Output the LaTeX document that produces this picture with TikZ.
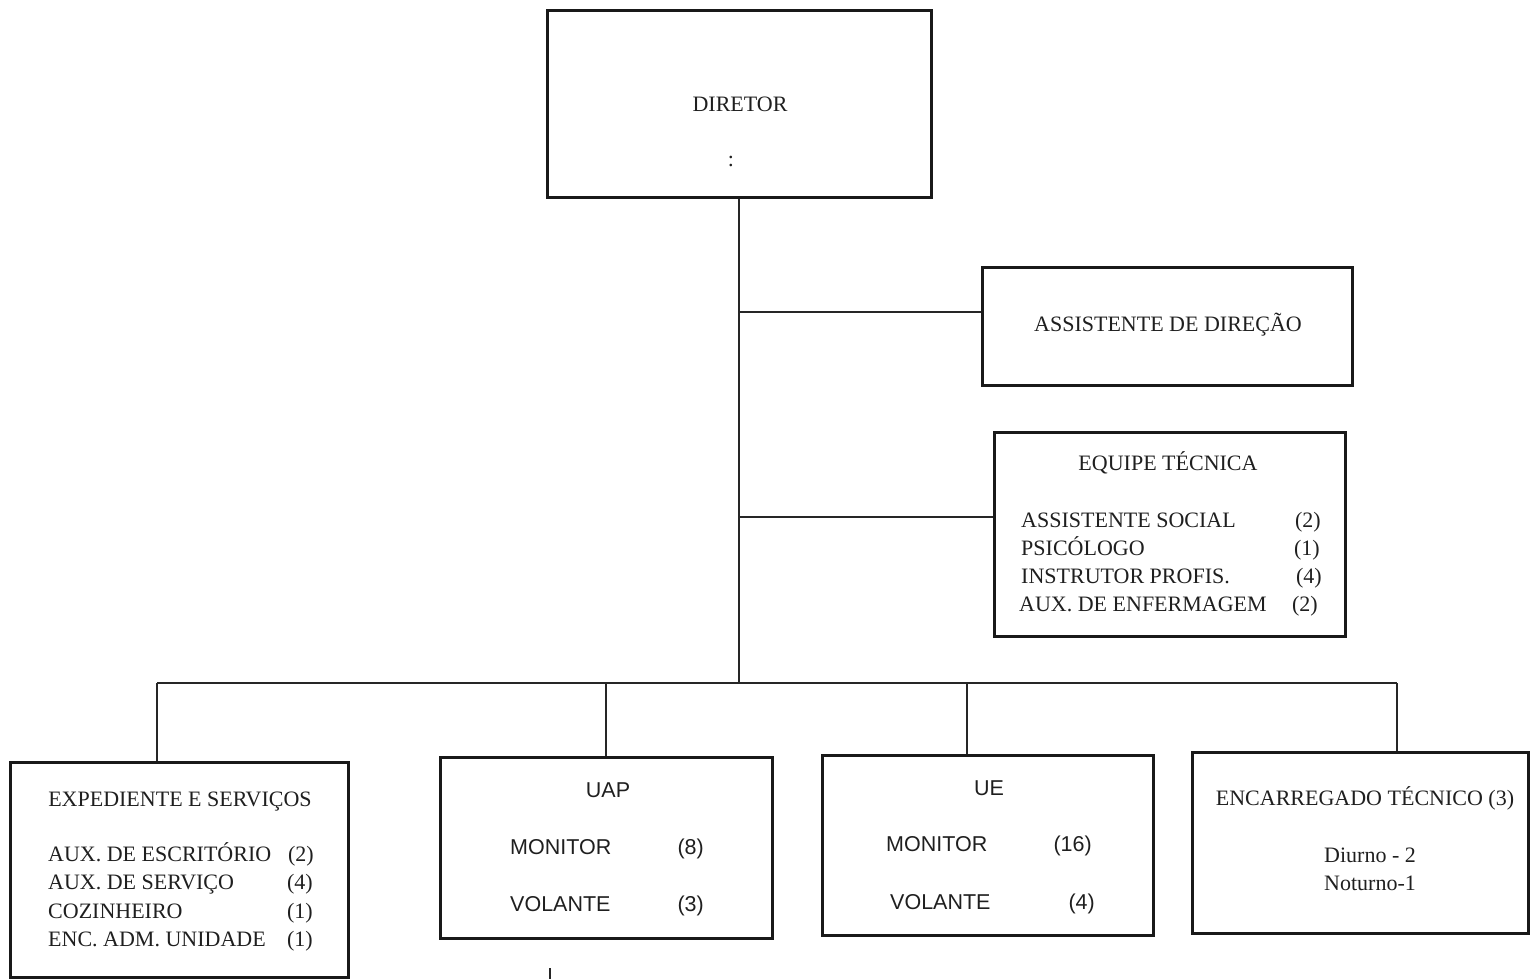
\documentclass[tikz,border=0pt]{standalone}
\usepackage{fontspec}
\setmainfont{Liberation Serif}
\newfontfamily\arialf{Liberation Sans}
\begin{document}
\begin{tikzpicture}[x=1pt,y=-1pt,
  box/.style={draw=black!90, line width=3pt, rectangle, inner sep=0pt},
  conn/.style={draw=black!85, line width=1.4pt},
  txt/.style={inner sep=0pt, text=black!88, font=\fontsize{22}{26}\selectfont},
  stxt/.style={inner sep=0pt, text=black!88, font=\arialf\fontsize{21.5}{26}\selectfont}]
\useasboundingbox (0,0) rectangle (1531,979);
% boxes
\node[box, minimum width=384pt, minimum height=186pt] (dir) at (739,104) {};
\node[box, minimum width=370pt, minimum height=118pt] (ad) at (1167,326) {};
\node[box, minimum width=351pt, minimum height=204pt] (eq) at (1169.5,534) {};
\node[box, minimum width=338pt, minimum height=215pt] (exp) at (179,869.5) {};
\node[box, minimum width=332pt, minimum height=181pt] (uap) at (606,847.5) {};
\node[box, minimum width=331pt, minimum height=180pt] (ue) at (987.5,845) {};
\node[box, minimum width=336pt, minimum height=181pt] (enc) at (1360,842.5) {};
% junctions
\coordinate (j1) at (739,312);
\coordinate (j2) at (739,517);
\coordinate (bc) at (739,683);
\coordinate (b1) at (157,683);
\coordinate (b2) at (606,683);
\coordinate (b3) at (967,683);
\coordinate (b4) at (1397,683);
\coordinate (t1) at (550,968);
\coordinate (t2) at (550,979);
% connectors
\draw[conn] (dir.south) -- (bc);
\draw[conn] (j1) -- (j1 -| ad.west);
\draw[conn] (j2) -- (j2 -| eq.west);
\draw[conn] (b1) -- (b4);
\draw[conn] (b1) -- (b1 |- exp.north);
\draw[conn] (b2) -- (b2 |- uap.north);
\draw[conn] (b3) -- (b3 |- ue.north);
\draw[conn] (b4) -- (b4 |- enc.north);
\draw[conn] (t1) -- (t2);
% texts
\node[txt, anchor=base] (tdir) at (740,111.5) {DIRETOR};
\node[txt, anchor=base, font=\fontsize{22}{24}\selectfont] (tdot) at (731,167) {:};
\node[txt, anchor=base] (tad) at (1168,331.5) {ASSISTENTE DE DIREÇÃO};
\node[txt, anchor=base] (teq) at (1168,470.5) {EQUIPE TÉCNICA};
\node[txt, anchor=base west] (e1) at (1021,527.5) {ASSISTENTE SOCIAL};
\node[txt, anchor=base west] (e2) at (1021,555.5) {PSICÓLOGO};
\node[txt, anchor=base west] (e3) at (1021,583.5) {INSTRUTOR PROFIS.};
\node[txt, anchor=base west] (e4) at (1019,611.5) {AUX. DE ENFERMAGEM};
\node[txt, anchor=base east] (n1) at (1321,527.5) {(2)};
\node[txt, anchor=base east] (n2) at (1320,555.5) {(1)};
\node[txt, anchor=base east] (n3) at (1322,583.5) {(4)};
\node[txt, anchor=base east] (n4) at (1318,611.5) {(2)};
\node[txt, anchor=base] (texp) at (180,806) {EXPEDIENTE E SERVIÇOS};
\node[txt, anchor=base west] (x1) at (48,861) {AUX. DE ESCRITÓRIO};
\node[txt, anchor=base west] (x2) at (48,889.5) {AUX. DE SERVIÇO};
\node[txt, anchor=base west] (x3) at (48,918) {COZINHEIRO};
\node[txt, anchor=base west] (x4) at (48,946.5) {ENC. ADM. UNIDADE};
\node[txt, anchor=base east] (m1) at (314,861) {(2)};
\node[txt, anchor=base east] (m2) at (313,889.5) {(4)};
\node[txt, anchor=base east] (m3) at (313,918) {(1)};
\node[txt, anchor=base east] (m4) at (313,946.5) {(1)};
\node[stxt, anchor=base] (tuap) at (608,797.5) {UAP};
\node[stxt, anchor=base west] (u1) at (510,854) {MONITOR};
\node[stxt, anchor=base east] (u1n) at (704,854) {(8)};
\node[stxt, anchor=base west] (u2) at (510,911) {VOLANTE};
\node[stxt, anchor=base east] (u2n) at (704,911) {(3)};
\node[stxt, anchor=base] (tue) at (989,795.5) {UE};
\node[stxt, anchor=base west] (v1) at (886,851.5) {MONITOR};
\node[stxt, anchor=base east] (v1n) at (1092,851.5) {(16)};
\node[stxt, anchor=base west] (v2) at (890,909.5) {VOLANTE};
\node[stxt, anchor=base east] (v2n) at (1095,909.5) {(4)};
\node[txt, anchor=base] (tenc) at (1365,805.5) {ENCARREGADO TÉCNICO (3)};
\node[txt, anchor=base] (d1) at (1370,862) {Diurno - 2};
\node[txt, anchor=base] (d2) at (1370,890) {Noturno-1};
\end{tikzpicture}
\end{document}
